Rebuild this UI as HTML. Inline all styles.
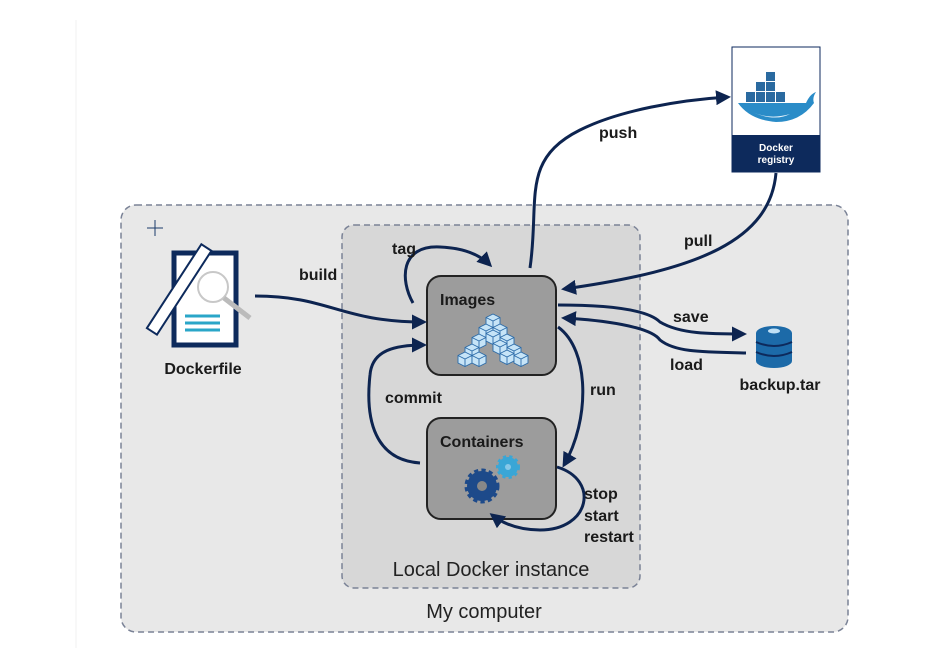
<!DOCTYPE html>
<html><head><meta charset="utf-8"><style>
html,body{margin:0;padding:0;background:#fff;width:931px;height:648px;overflow:hidden}
svg{display:block}
text{font-family:"Liberation Sans",sans-serif}
.b{font-weight:bold;font-size:16px;fill:#1a1a1a}
</style></head><body>
<svg width="931" height="648" viewBox="0 0 931 648" xmlns="http://www.w3.org/2000/svg">
<defs>
<marker id="a" viewBox="0 0 10 10" refX="8" refY="5" markerWidth="5" markerHeight="5" orient="auto"><path d="M0,0 L10,5 L0,10 z" fill="#0d2450"/></marker>
<g id="cube"><polygon points="0,-6 7,-2.5 7,5 0,8.5 -7,5 -7,-2.5" fill="#c6e4f7" stroke="#2a6aa8" stroke-width="0.9"/><path d="M-7,-2.5 L0,1 L7,-2.5 M0,1 L0,8.5" stroke="#2a6aa8" stroke-width="0.9" fill="none"/></g>
</defs>
<line x1="76" y1="20" x2="76" y2="648" stroke="#f0f0f0" stroke-width="1"/>
<rect x="121" y="205" width="727" height="427" rx="15" fill="#e8e8e8" stroke="#7a8296" stroke-width="1.5" stroke-dasharray="6,4"/>
<rect x="342" y="225" width="298" height="363" rx="12" fill="#d7d7d7" stroke="#7a8296" stroke-width="1.5" stroke-dasharray="6,4"/>
<text x="491" y="576" text-anchor="middle" font-size="20" fill="#222">Local Docker instance</text>
<text x="484" y="618" text-anchor="middle" font-size="20" fill="#222">My computer</text>
<g stroke="#1a3a6a" stroke-width="1"><line x1="147" y1="228" x2="163" y2="228"/><line x1="155" y1="220" x2="155" y2="236"/></g>
<!-- Images box -->
<rect x="427" y="276" width="129" height="99" rx="14" fill="#9c9c9c" stroke="#222" stroke-width="2"/>
<text x="440" y="305" class="b" font-size="17">Images</text>
<g>
<use href="#cube" x="493" y="320"/>
<use href="#cube" x="486" y="330"/><use href="#cube" x="500" y="330"/>
<use href="#cube" x="479" y="340"/><use href="#cube" x="493" y="336"/><use href="#cube" x="507" y="340"/>
<use href="#cube" x="472" y="350"/><use href="#cube" x="500" y="346"/><use href="#cube" x="514" y="350"/>
<use href="#cube" x="465" y="358"/><use href="#cube" x="479" y="358"/><use href="#cube" x="507" y="356"/><use href="#cube" x="521" y="358"/>
</g>
<!-- Containers box -->
<rect x="427" y="418" width="129" height="101" rx="14" fill="#9c9c9c" stroke="#222" stroke-width="2"/>
<text x="440" y="447" class="b" font-size="17">Containers</text>
<circle cx="482" cy="486" r="15" fill="#1d4a8a" stroke="#1d4a8a" stroke-width="5" stroke-dasharray="4,3"/>
<circle cx="482" cy="486" r="5" fill="#888"/>
<circle cx="508" cy="467" r="10" fill="#3aa6d6" stroke="#3aa6d6" stroke-width="4" stroke-dasharray="3,3"/>
<circle cx="508" cy="467" r="3" fill="#88c8e8"/>
<!-- Dockerfile -->
<rect x="174" y="253" width="62" height="92" fill="#fff" stroke="#0d2a5c" stroke-width="5"/>
<circle cx="213" cy="287" r="15" fill="none" stroke="#c8c8c8" stroke-width="2"/>
<line x1="224" y1="298" x2="250" y2="318" stroke="#bbb" stroke-width="5"/>
<g stroke="#2aa6c8" stroke-width="3"><line x1="185" y1="316" x2="220" y2="316"/><line x1="185" y1="323" x2="220" y2="323"/><line x1="185" y1="330" x2="220" y2="330"/></g>
<g transform="rotate(33 180 290)"><rect x="173" y="240" width="12" height="100" fill="#fff" stroke="#0d2a5c" stroke-width="2"/></g>
<text x="203" y="374" class="b" text-anchor="middle">Dockerfile</text>
<!-- Registry -->
<rect x="732" y="47" width="88" height="125" fill="#fff" stroke="#0d2a5c" stroke-width="1"/>
<rect x="732" y="135" width="88" height="37" fill="#0d2a5c"/>
<text x="776" y="151" text-anchor="middle" font-size="10" font-weight="bold" fill="#fff">Docker</text>
<text x="776" y="163" text-anchor="middle" font-size="10" font-weight="bold" fill="#fff">registry</text>
<path d="M738,103 L806,103 Q810,94 816,92 Q812,98 814,103 Q800,122 776,122 Q750,120 738,103 z" fill="#2a8cc8"/>
<path d="M752,112 Q770,120 790,114 Q775,122 752,112z" fill="#e6f2fa"/>
<g fill="#2a6aa0"><rect x="746" y="92" width="9" height="10"/><rect x="756" y="92" width="9" height="10"/><rect x="766" y="92" width="9" height="10"/><rect x="776" y="92" width="9" height="10"/><rect x="756" y="82" width="9" height="9"/><rect x="766" y="82" width="9" height="9"/><rect x="766" y="72" width="9" height="9"/></g>
<!-- backup cylinder -->
<g fill="#1c6aa8"><ellipse cx="774" cy="333" rx="18" ry="7"/><rect x="756" y="333" width="36" height="28"/><ellipse cx="774" cy="361" rx="18" ry="7"/></g>
<g stroke="#0d2a5c" stroke-width="2" fill="none"><path d="M756,342 q18,8 36,0 M756,352 q18,8 36,0"/></g>
<ellipse cx="774" cy="331" rx="6" ry="2.5" fill="#bfe0f5"/>
<text x="780" y="390" class="b" text-anchor="middle" font-size="17">backup.tar</text>
<!-- arrows -->
<g fill="none" stroke="#0d2450" stroke-width="3" marker-end="url(#a)">
<path d="M255,296 C330,296 340,322 424,322"/>
<path d="M413,303 C400,280 400,245 440,247 C465,248 480,255 490,265"/>
<path d="M530,268 C540,200 520,160 580,130 C620,110 680,100 728,97"/>
<path d="M776,173 C770,240 700,270 564,289"/>
<path d="M558,305 C620,305 650,312 660,322 C680,334 710,334 744,334"/>
<path d="M746,353 C700,352 675,352 660,340 C650,326 600,320 564,318"/>
<path d="M558,327 C590,350 590,420 564,465"/>
<path d="M557,467 C600,480 590,530 540,530 C520,530 505,525 492,515"/>
<path d="M420,463 C375,460 365,420 370,375 C372,350 395,345 424,345"/>
</g>
<text x="299" y="280" class="b">build</text>
<text x="392" y="254" class="b">tag</text>
<text x="599" y="138" class="b">push</text>
<text x="684" y="246" class="b">pull</text>
<text x="673" y="322" class="b">save</text>
<text x="670" y="370" class="b">load</text>
<text x="590" y="395" class="b">run</text>
<text x="385" y="403" class="b">commit</text>
<text x="584" y="499" class="b">stop</text>
<text x="584" y="521" class="b">start</text>
<text x="584" y="542" class="b">restart</text>
</svg>
</body></html>
